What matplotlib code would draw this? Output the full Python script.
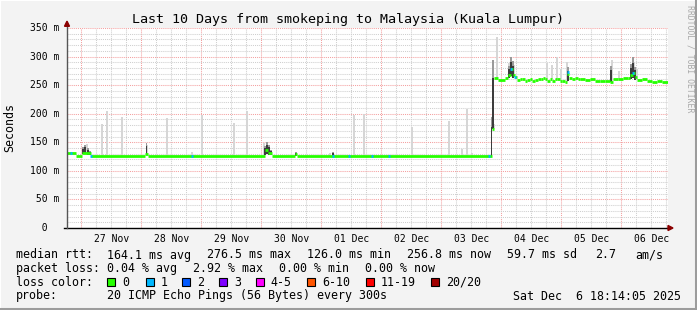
import numpy as np
import matplotlib
matplotlib.use("Agg")
import matplotlib.pyplot as plt
import matplotlib.transforms as mtrans
from matplotlib.patches import Rectangle, Polygon

# ---------------- data ----------------
title = "Last 10 Days from smokeping to Malaysia (Kuala Lumpur)"
day_labels = ['27 Nov', '28 Nov', '29 Nov', '30 Nov', '01 Dec',
              '02 Dec', '03 Dec', '04 Dec', '05 Dec', '06 Dec']
first_midnight_h = 5.765      # hours from window start (Nov 26 18:14:05) to Nov 27 00:00
window_h = 240.4
yticks_ms = [0, 50, 100, 150, 200, 250, 300, 350]

# median rtt (ms), piecewise constant from each time (hours since window start)
median_h = [0.0, 3.6, 6.0, 9.6, 31.2, 32.4, 79.2, 80.4, 82.0, 91.2, 92.0,
            170.0, 170.8, 172.4, 175.2, 176.4, 177.6, 178.4, 179.2, 180.0,
            181.2, 182.0, 183.2, 184.0, 185.2, 186.0, 187.2, 188.4, 189.6,
            190.4, 191.2, 192.0, 193.2, 194.0, 195.2, 196.0, 197.2, 198.0,
            199.2, 200.0, 200.8, 202.0, 203.2, 204.4, 205.2, 207.2, 209.2,
            211.2, 213.2, 215.2, 217.2, 218.4, 220.4, 222.4, 224.4, 225.2,
            226.4, 227.2, 228.0, 230.0, 232.0, 234.0, 236.0, 238.0]
median_ms = [131, 126, 132, 126, 129, 126, 137, 131, 126, 129, 126,
             173, 262, 259, 262, 268, 278, 268, 264, 259,
             261, 260, 258, 259, 260, 258, 259, 261, 260,
             262, 260, 258, 260, 257, 260, 261, 258, 257,
             256, 269, 262, 261, 262, 260, 260, 259, 260,
             258, 257, 258, 256, 261, 260, 262, 263, 268,
             272, 265, 259, 260, 257, 255, 257, 256]

# samples with 1/20 packet loss
loss1_h = [1.6, 9.6, 50.0, 106.4, 112.8, 122.0, 128.8, 168.8, 177.6, 179.2, 200.4, 226.4]
loss1_ms = [131, 126, 126, 126, 126, 126, 126, 126, 278, 264, 273, 272]

# highest ping in a sample (light smoke)
maxping_h = [7.9, 13.9, 15.9, 21.9, 31.9, 40.0, 50.0, 53.9, 66.9, 71.9, 78.9,
             91.6, 105.2, 114.9, 118.8, 137.9, 152.9, 157.9, 159.9, 161.9,
             170.6, 171.9, 176.8, 178.0, 178.8, 191.9, 193.9, 195.9, 197.6,
             199.9, 217.9, 220.9, 225.6, 226.8, 228.0]
maxping_ms = [147, 182, 205, 194, 145, 192, 133, 198, 184, 205, 149,
              132, 131, 198, 200, 177, 188, 138, 209, 132,
              182, 335, 288, 292, 285, 289, 285, 299, 278,
              291, 294, 275, 285, 291, 278]

# dense part of the ping spread (dark smoke)
dense_h = [6.4, 7.2, 8.4, 9.2, 31.8, 79.2, 80.0, 80.8, 81.6, 91.6, 106.4,
           169.8, 170.4, 176.8, 177.6, 178.4, 200.4, 217.6, 225.6, 226.4, 227.2]
dense_lo = [129, 129, 128, 127, 127, 128, 130, 128, 127, 126, 126,
            126, 173, 262, 266, 262, 258, 256, 260, 262, 259]
dense_hi = [139, 141, 137, 133, 143, 140, 145, 141, 134, 131, 131,
            176, 262, 278, 290, 284, 275, 276, 280, 289, 276]

rtt_label = "median rtt:"
rtt_stats = ["164.1 ms avg", "276.5 ms max", "126.0 ms min", "256.8 ms now",
             "59.7 ms sd", "2.7", "am/s"]
loss_label = "packet loss:"
loss_stats = ["0.04 % avg", "2.92 % max", "0.00 % min", "0.00 % now"]
loss_labels = ["0", "1", "2", "3", "4-5", "6-10", "11-19", "20/20"]
loss_colors = ['#26ff00', '#00b8ff', '#0059ff', '#7e00ff',
               '#ff00ff', '#ff5500', '#ff0000', '#a10000']
probe_text = "20 ICMP Echo Pings (56 Bytes) every 300s"
stamp = "Sat Dec  6 18:14:05 2025"

# ---------------- figure ----------------
W, H = 697, 310
MONO = 'DejaVu Sans Mono'
fig = plt.figure(figsize=(W / 100, H / 100), dpi=100, facecolor='#f3f3f3')
ax = fig.add_axes([67 / W, (H - 228) / H, 601 / W, 200 / H])
ax.set_facecolor('white')
ax.set_xlim(0, window_h)
ax.set_ylim(0, 350)
for s in ax.spines.values():
    s.set_visible(False)

minor_c = '#cfcfcf'
major_c = '#f4a0a0'
dot = (0, (1, 1))
# vertical grid
k = 0
while True:
    hv = first_midnight_h + 6 * k - 6
    if hv > window_h:
        break
    if hv > 0:
        is_major = (k - 1) % 4 == 0
        ax.axvline(hv, color=major_c if is_major else minor_c, lw=0.75, ls=dot, zorder=1)
    k += 1
# horizontal grid
for v in range(10, 351, 10):
    ax.axhline(v, color=major_c if v % 50 == 0 else minor_c, lw=0.75, ls=dot, zorder=1)

med_h = np.array(median_h)
med_v = np.array(median_ms)
def median_at(t):
    i = np.searchsorted(med_h, t, side='right') - 1
    return med_v[max(i, 0)]

# light smoke: max ping
for t, m in zip(maxping_h, maxping_ms):
    base = median_at(t)
    ax.bar(t, m - base, bottom=base, width=0.8, color='#d6d6d6', lw=0, zorder=2)
# dark smoke
for t, lo, hi in zip(dense_h, dense_lo, dense_hi):
    ax.bar(t, hi - lo, bottom=lo, width=0.7, color='#3c3c3c', lw=0, zorder=3)
    ax.bar(t, (hi - lo) * 0.35, bottom=hi, width=0.7, color='#9a9a9a', lw=0, zorder=3)

# median line (loss colour 0)
ends = np.append(med_h[1:], window_h)
ax.hlines(med_v, med_h, ends, colors=loss_colors[0], lw=2.0, zorder=4)
# loss 1 samples
ax.hlines(loss1_ms, np.array(loss1_h) - 0.5, np.array(loss1_h) + 0.5,
          colors=loss_colors[1], lw=2.0, zorder=5)

# axes lines and arrows
ax.plot([-1.2, window_h + 0.4], [0, 0], color='black', lw=1.0, clip_on=False, zorder=6)
ax.plot([0, 0], [0, 357], color='#555555', lw=1.0, clip_on=False, zorder=6)
ax.add_patch(Polygon([[window_h, 4.4], [window_h, -4.4], [window_h + 2.0, 0]],
                     closed=True, color='#8b0000', clip_on=False, zorder=7))
ax.add_patch(Polygon([[-1.0, 353], [1.0, 353], [0, 362]],
                     closed=True, color='#8b0000', clip_on=False, zorder=7))

# tick labels
noon = [first_midnight_h + 12 + 24 * i for i in range(len(day_labels))]
ax.set_xticks(noon)
ax.set_xticklabels(day_labels, family=MONO, fontsize=7)
ax.tick_params(axis='x', length=0, pad=4.5)
ax.set_yticks([])
bt = mtrans.blended_transform_factory(ax.transAxes, ax.transData)
for v in yticks_ms:
    lab = f"{v:3d} m" if v else "  0  "
    ax.text(-37 / 601, v, lab, transform=bt, family=MONO, fontsize=7,
            ha='left', va='center')

# texts
def ftext(x, y, s, **kw):
    fig.text(x / W, 1 - y / H, s, family=MONO, **kw)

ftext(348, 19, title, fontsize=9.6, ha='center', va='center')
ftext(10, 128, "Seconds", fontsize=8.4, ha='center', va='center', rotation=90)
ftext(690, 59, "RRDTOOL / TOBI OETIKER", fontsize=5.9, ha='center', va='center',
      rotation=270, color='#a8a8a8')

rows = [255, 268.3, 282.3, 296]
FS = 8.4
ftext(16, rows[0], rtt_label, fontsize=FS, va='center')
for x, s in zip([107.3, 207.3, 307.3, 407.3, 507.3, 595, 635], rtt_stats):
    ftext(x, rows[0], s, fontsize=FS, va='center')
ftext(16, rows[1], loss_label, fontsize=FS, va='center')
for x, s in zip([107.3, 193, 279, 365], loss_stats):
    ftext(x, rows[1], s, fontsize=FS, va='center')
ftext(16, rows[2], "loss color:", fontsize=FS, va='center')
for x, s, c in zip([107.3, 145.7, 182.3, 219, 255.7, 307.3, 365.7, 430.7],
                   loss_labels, loss_colors):
    fig.patches.append(Rectangle((x / W, 1 - (rows[2] + 4) / H), 8 / W, 8 / H,
                                 transform=fig.transFigure, facecolor=c,
                                 edgecolor='black', lw=0.8))
    ftext(x + 15, rows[2], s, fontsize=FS, va='center')
ftext(16, rows[3], "probe:", fontsize=FS, va='center')
ftext(107.3, rows[3], probe_text, fontsize=FS, va='center')
ftext(513.3, rows[3], stamp, fontsize=FS, va='center')

# 3D frame
fig.lines.append(plt.Line2D([0, 0, 1], [0, 1, 1], transform=fig.transFigure,
                            color='#ffffff', lw=1.5))
fig.lines.append(plt.Line2D([0, 1, 1], [1.5 / H, 1.5 / H, 1], transform=fig.transFigure,
                            color='#9c9c9c', lw=2.2))
fig.lines.append(plt.Line2D([1 - 1.5 / W, 1 - 1.5 / W], [0, 1], transform=fig.transFigure,
                            color='#9c9c9c', lw=2.2))

fig.savefig("out.png", dpi=100, facecolor=fig.get_facecolor())
